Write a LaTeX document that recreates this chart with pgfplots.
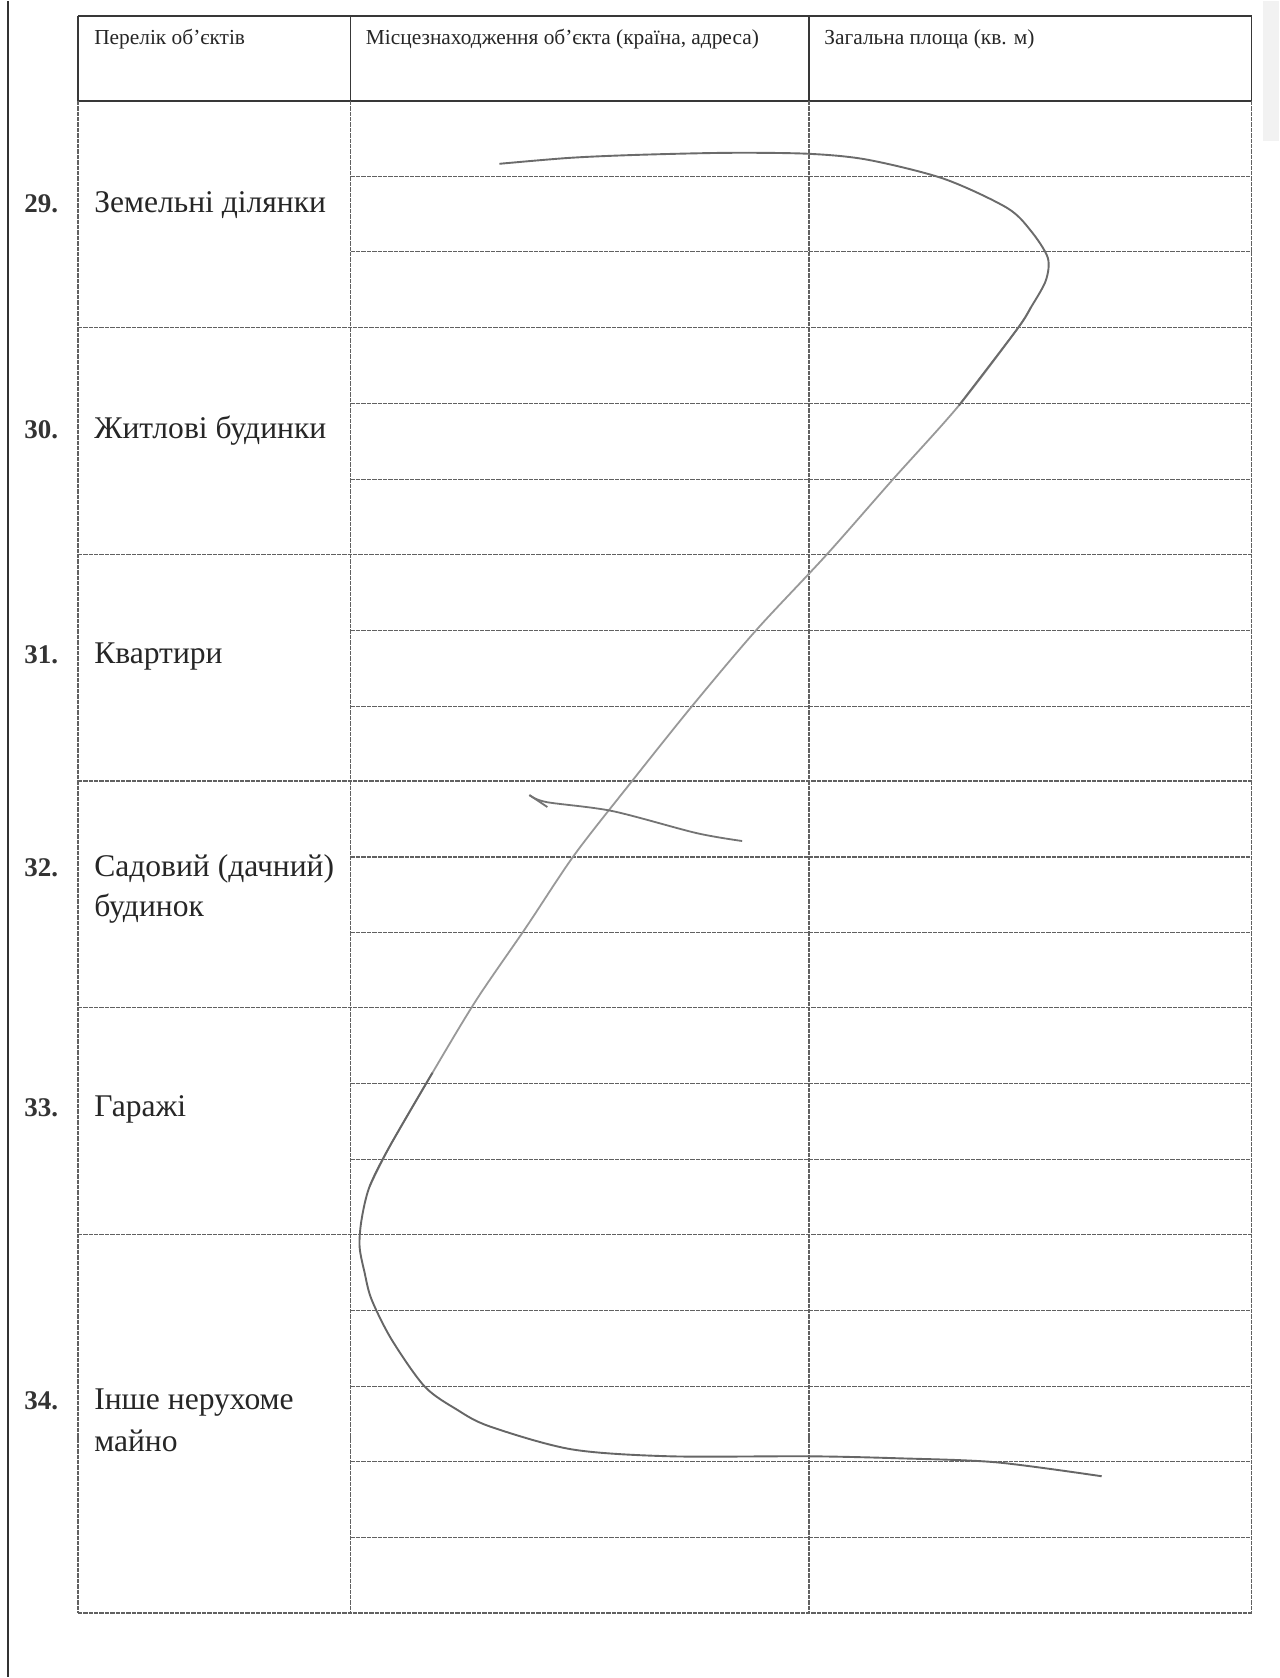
\documentclass[border=0pt]{standalone}
\usepackage{pgfplots}
\pgfplotsset{compat=1.18}
\usepackage{fontspec}
\setmainfont{Liberation Serif}

% one pixel of the scan = 0.5pt
\newcommand{\hdr}{\fontsize{10.7pt}{12pt}\selectfont}
\newcommand{\lbl}{\fontsize{15.8pt}{18pt}\selectfont}
\newcommand{\num}{\fontsize{13.5pt}{16pt}\selectfont\bfseries}
\tikzset{txt/.style={anchor=base west, inner sep=0pt, black!85}}

\begin{document}
\begin{tikzpicture}
  \begin{axis}[
    scale only axis,
    width=640.5pt, height=839pt,
    xmin=0, xmax=1281, ymin=0, ymax=1678,
    y dir=reverse,
    hide axis,
    clip=false,
    grid line/.style={black!62, line width=0.6pt, dash pattern=on 2.2pt off 0.5pt},
    head line/.style={black!78, line width=0.75pt},
  ]
    % page
    \addplot[fill=white, draw=none] coordinates {(0,0) (1281,0) (1281,1678) (0,1678)} -- cycle;
    \addplot[fill=black!5, draw=none] coordinates {(1264,0) (1281,0) (1281,140) (1264,140)} -- cycle;
    \addplot[black!80, line width=1pt] coordinates {(8,0) (8,1678)};

    % header frame
    \addplot[head line] coordinates {(78,15) (1253,15)};
    \addplot[head line] coordinates {(78,100) (1253,100)};
    \addplot[head line] coordinates {(78,15) (78,100)};
    \addplot[head line] coordinates {(351,15) (351,100)};
    \addplot[head line] coordinates {(810,15) (810,100)};
    \addplot[head line] coordinates {(1253,15) (1253,100)};

    % body columns
    \addplot[grid line] coordinates {(78,100) (78,1614)};
    \addplot[grid line] coordinates {(351,100) (351,1614)};
    \addplot[grid line] coordinates {(810,100) (810,1614)};
    \addplot[grid line] coordinates {(1253,100) (1253,1614)};

    % block borders (full width)
    \addplot[grid line] coordinates {(78,327) (1253,327)};
    \addplot[grid line] coordinates {(78,554) (1253,554)};
    \addplot[grid line] coordinates {(78,781) (1253,781)};
    \addplot[grid line] coordinates {(78,1008) (1253,1008)};
    \addplot[grid line] coordinates {(78,1235) (1253,1235)};
    \addplot[grid line] coordinates {(78,1614) (1253,1614)};

    % sub rows (columns 2 and 3)
    \foreach \yy in {176,251,403,479,630,706,857,933,1084,1160,1311,1387,1462,1538} {
      \edef\tmp{\noexpand\addplot[grid line] coordinates {(351,\yy) (1253,\yy)};}
      \tmp
    }

    % header texts
    \node[txt, font=\hdr] at (axis cs:94,44) {Перелік об’єктів};
    \node[txt, font=\hdr] at (axis cs:366,44) {Місцезнаходження об’єкта (країна, адреса)};
    \node[txt, font=\hdr] at (axis cs:825,44) {Загальна площа (кв. м)};

    % row labels
    \node[txt, black!80, font=\num] at (axis cs:24,212) {29.};
    \node[txt, font=\lbl] at (axis cs:94,212) {Земельні ділянки};
    \node[txt, black!80, font=\num] at (axis cs:24,438) {30.};
    \node[txt, font=\lbl] at (axis cs:94,438) {Житлові будинки};
    \node[txt, black!80, font=\num] at (axis cs:24,663) {31.};
    \node[txt, font=\lbl] at (axis cs:94,663) {Квартири};
    \node[txt, black!80, font=\num] at (axis cs:24,877) {32.};
    \node[txt, font=\lbl] at (axis cs:94,877) {Садовий (дачний)};
    \node[txt, font=\lbl] at (axis cs:94,917) {будинок};
    \node[txt, black!80, font=\num] at (axis cs:24,1117) {33.};
    \node[txt, font=\lbl] at (axis cs:94,1117) {Гаражі};
    \node[txt, black!80, font=\num] at (axis cs:24,1410) {34.};
    \node[txt, font=\lbl] at (axis cs:94,1410) {Інше нерухоме};
    \node[txt, font=\lbl] at (axis cs:94,1452) {майно};

    % handwritten cancel stroke: lighter middle, darker ends
    \addplot[black!40, line width=0.9pt, smooth] coordinates {
      (1032,307) (1018,329) (960,405) (893,480) (827,555) (757,630)
      (692,707) (632,782) (575,855) (527,927) (477,1000) (433,1073)
      (390,1147) (370,1187)
    };
    \addplot[black!58, line width=0.95pt, smooth] coordinates {
      (500,163) (571,157) (640,154) (730,152) (810,153) (869,159)
      (945,178) (1008,207) (1032,230) (1049,257) (1047,280) (1032,307)
      (1018,329) (960,405)
    };
    \addplot[black!60, line width=0.95pt, smooth] coordinates {
      (433,1073) (390,1147) (370,1187) (362,1220) (360,1247) (365,1273)
      (372,1300) (392,1340) (425,1387) (457,1410) (490,1427) (572,1450)
      (670,1457) (809,1457) (899,1459) (997,1463) (1103,1477)
    };
    \addplot[black!55, line width=0.9pt, smooth] coordinates {(743,841) (697,833) (613,811) (547,802) (530,795)};
    \addplot[black!55, line width=0.9pt] coordinates {(530,795) (548,807)};
  \end{axis}
\end{tikzpicture}
\end{document}
